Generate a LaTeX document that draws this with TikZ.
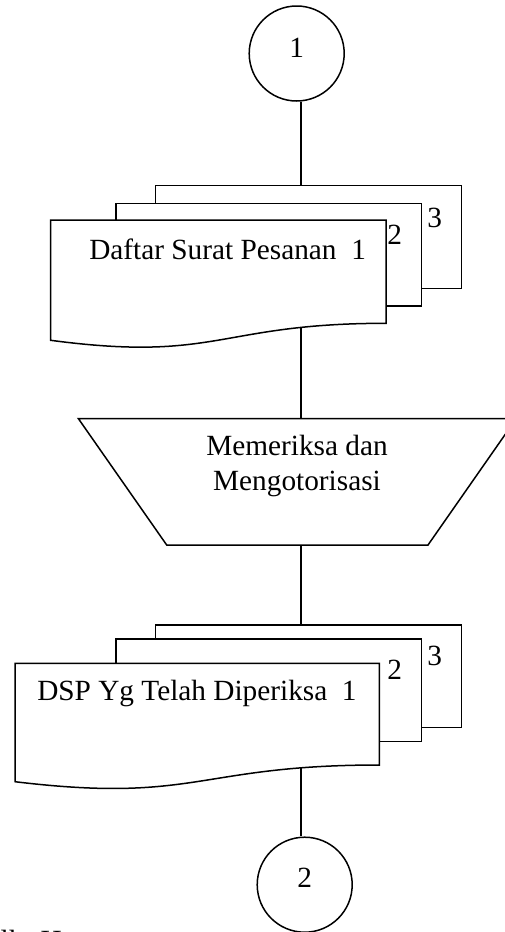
\documentclass[tikz,border=0pt]{standalone}
\usepackage{fontspec}
\setmainfont{Liberation Serif}
\begin{document}
\begin{tikzpicture}[x=1pt,y=-1pt, line width=1.5pt,
  lbl/.style={font=\fontsize{29.3}{35}\selectfont, inner sep=0pt},
  conn/.style={circle, draw, fill=white, minimum size=95pt, inner sep=0pt, font=\fontsize{29.3}{35}\selectfont},
  sheet/.style={draw, fill=white, line join=miter},
  link/.style={draw}]
\useasboundingbox (0,0) rectangle (505,932);

% connector circles
\node[conn, text depth=10.8pt] (c1) at (296.7,53.5) {1};
\node[conn, text depth=13pt] (c2) at (304.7,884.7) {2};

% connector end points
\coordinate (s1top) at (301,185.7);
\coordinate (s1bot) at (301,300);
\coordinate (ttop) at (301,418.5);
\coordinate (tbot) at (301,545);
\coordinate (s2top) at (301,625);
\coordinate (s2bot) at (301,740);

% connectors
\draw[link] (s1top |- c1.south) -- (s1top);
\draw[link] (s1bot) -- (ttop);
\draw[link] (tbot) -- (s2top);
\draw[link] (s2bot) -- (s2bot |- c2.north);

% document stack 1
\draw[sheet] (155.3,185.7) rectangle (461.7,288.3);
\draw[sheet] (116,203.3) rectangle (421.7,306);
\draw[sheet] (50.7,220) -- (386,220) -- (386,323.3)
  .. controls (218.3,323.3) and (218.3,362.6) .. (50.7,340.3) -- cycle;
\node[lbl, anchor=base west] (t1) at (88.5,259.3) {Daftar Surat Pesanan\ \ 1};
\node[lbl, anchor=base west] (n12) at (386.5,244) {2};
\node[lbl, anchor=base west] (n13) at (426.5,227) {3};

% manual operation (trapezoid)
\draw[sheet] (78.3,418.5) -- (516.3,418.5) -- (428,545) -- (166.7,545) -- cycle;
\node[lbl, align=center] (t2) at (297,465.7) {Memeriksa dan\\Mengotorisasi};

% document stack 2
\draw[sheet] (155.3,625) rectangle (461.7,727.3);
\draw[sheet] (116,639) rectangle (421.7,741.7);
\draw[sheet] (15,663.3) -- (379.3,663.3) -- (379.3,765)
  .. controls (197.2,765) and (197.2,803.7) .. (15,781.7) -- cycle;
\node[lbl, anchor=base west] (t3) at (36.5,700.7) {DSP Yg Telah Diperiksa\ \ 1};
\node[lbl, anchor=base west] (n22) at (386.5,679) {2};
\node[lbl, anchor=base west] (n23) at (426.5,665.7) {3};

% clipped caption fragment
\node[lbl, anchor=base west] (frag) at (0,950) {lk. H};
\end{tikzpicture}
\end{document}
